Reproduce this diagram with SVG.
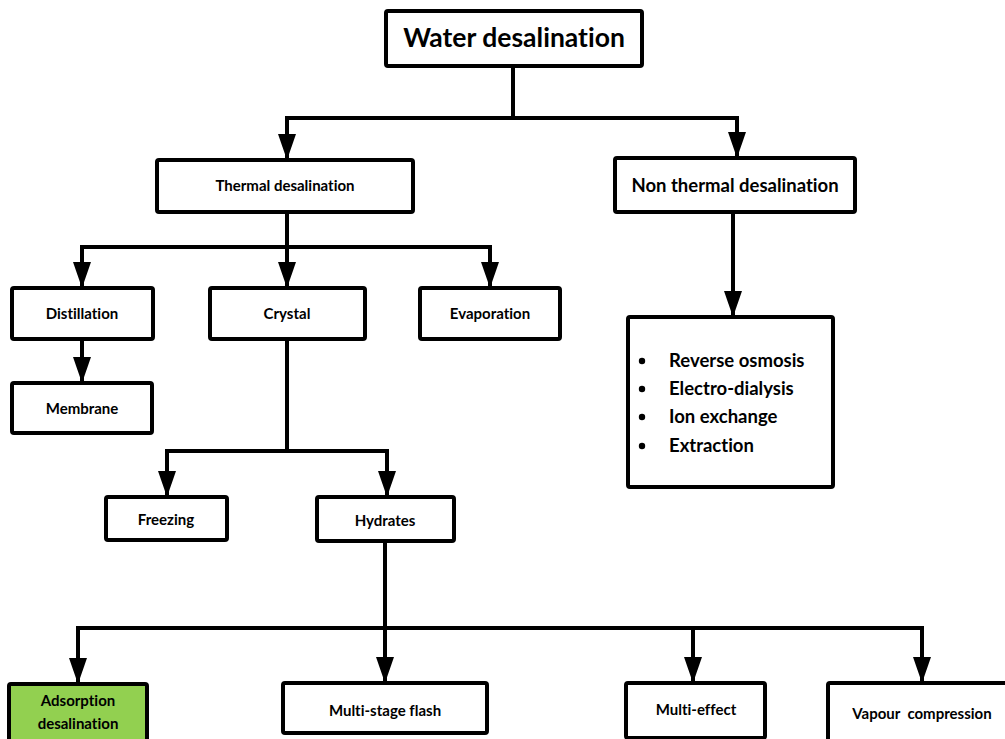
<svg xmlns="http://www.w3.org/2000/svg" width="1005" height="739" viewBox="0 0 1005 739">
<style>
.box{fill:#fff;stroke:#000;stroke-width:4;stroke-linejoin:round}
.green{fill:#92D050}
.ln{fill:none;stroke:#000;stroke-width:4;stroke-linejoin:miter}
text{font-family:Lato,"Open Sans","Liberation Sans",sans-serif;font-weight:bold;fill:#000;text-anchor:middle;font-variant-ligatures:none;font-feature-settings:"liga" 0}
.t15{font-size:15px}
.t19{font-size:18.5px}
.t26{font-size:26.5px}
.lst{font-size:18.5px;text-anchor:start}
</style>
<defs>
<marker id="arr" viewBox="0 0 26 18" refX="26" refY="9" markerWidth="26" markerHeight="18" markerUnits="userSpaceOnUse" orient="auto">
<path d="M0,0 L26,9 L0,18 Z" fill="#000"/>
</marker>
</defs>
<rect width="1005" height="739" fill="#fff"/>
<g id="connectors">
<path class="ln" d="M513,66 V118"/>
<path class="ln" d="M513,118 H287 V160" marker-end="url(#arr)"/>
<path class="ln" d="M513,118 H737 V158" marker-end="url(#arr)"/>
<path class="ln" d="M287,212 V247"/>
<path class="ln" d="M287,247 H82 V288" marker-end="url(#arr)"/>
<path class="ln" d="M287,247 V288" marker-end="url(#arr)"/>
<path class="ln" d="M287,247 H490 V288" marker-end="url(#arr)"/>
<path class="ln" d="M82,339 V383" marker-end="url(#arr)"/>
<path class="ln" d="M733,212 V317" marker-end="url(#arr)"/>
<path class="ln" d="M287,339 V451"/>
<path class="ln" d="M287,451 H167 V497" marker-end="url(#arr)"/>
<path class="ln" d="M287,451 H387 V497" marker-end="url(#arr)"/>
<path class="ln" d="M385,541 V628"/>
<path class="ln" d="M385,628 H78 V684" marker-end="url(#arr)"/>
<path class="ln" d="M385,628 V683" marker-end="url(#arr)"/>
<path class="ln" d="M385,628 H693 V683" marker-end="url(#arr)"/>
<path class="ln" d="M693,628 H922 V683" marker-end="url(#arr)"/>
</g>
<g id="water">
<rect class="box" x="386" y="11" width="256" height="55" rx="2"/>
<text class="t26" x="514" y="47">Water desalination</text>
</g>
<g id="thermal">
<rect class="box" x="157" y="160" width="256" height="52" rx="2"/>
<text class="t15" x="285" y="191">Thermal desalination</text>
</g>
<g id="nonthermal">
<rect class="box" x="615" y="158" width="240" height="54" rx="2"/>
<text class="t19" x="735" y="192">Non thermal desalination</text>
</g>
<g id="distillation">
<rect class="box" x="12" y="288" width="141" height="51" rx="2"/>
<text class="t15" x="82" y="319">Distillation</text>
</g>
<g id="crystal">
<rect class="box" x="210" y="288" width="155" height="51" rx="2"/>
<text class="t15" x="287" y="319">Crystal</text>
</g>
<g id="evaporation">
<rect class="box" x="420" y="288" width="140" height="51" rx="2"/>
<text class="t15" x="490" y="319">Evaporation</text>
</g>
<g id="membrane">
<rect class="box" x="12" y="383" width="140" height="50" rx="2"/>
<text class="t15" x="82" y="414">Membrane</text>
</g>
<g id="nonthermal-list">
<rect class="box" x="628" y="317" width="205" height="170" rx="2"/>
<circle cx="642" cy="361" r="3.2"/>
<circle cx="642" cy="389" r="3.2"/>
<circle cx="642" cy="417" r="3.2"/>
<circle cx="642" cy="446" r="3.2"/>
<text class="lst" x="669" y="367">Reverse osmosis</text>
<text class="lst" x="669" y="395">Electro-dialysis</text>
<text class="lst" x="669" y="423">Ion exchange</text>
<text class="lst" x="669" y="452">Extraction</text>
</g>
<g id="freezing">
<rect class="box" x="106" y="497" width="121" height="43" rx="2"/>
<text class="t15" x="166" y="525">Freezing</text>
</g>
<g id="hydrates">
<rect class="box" x="317" y="497" width="137" height="44" rx="2"/>
<text class="t15" x="385" y="526">Hydrates</text>
</g>
<g id="adsorption">
<rect class="box green" x="9" y="684" width="138" height="60" rx="2"/>
<text class="t15" x="78" y="706">Adsorption</text>
<text class="t15" x="78" y="729">desalination</text>
</g>
<g id="msf">
<rect class="box" x="283" y="683" width="204" height="50" rx="2"/>
<text class="t15" x="385" y="716">Multi-stage flash</text>
</g>
<g id="multieffect">
<rect class="box" x="626" y="683" width="139" height="55" rx="2"/>
<text class="t15" x="696" y="715">Multi-effect</text>
</g>
<g id="vapour">
<rect class="box" x="828" y="683" width="190" height="60" rx="2"/>
<text class="t15" x="922" y="719" xml:space="preserve">Vapour  compression</text>
</g>
</svg>
